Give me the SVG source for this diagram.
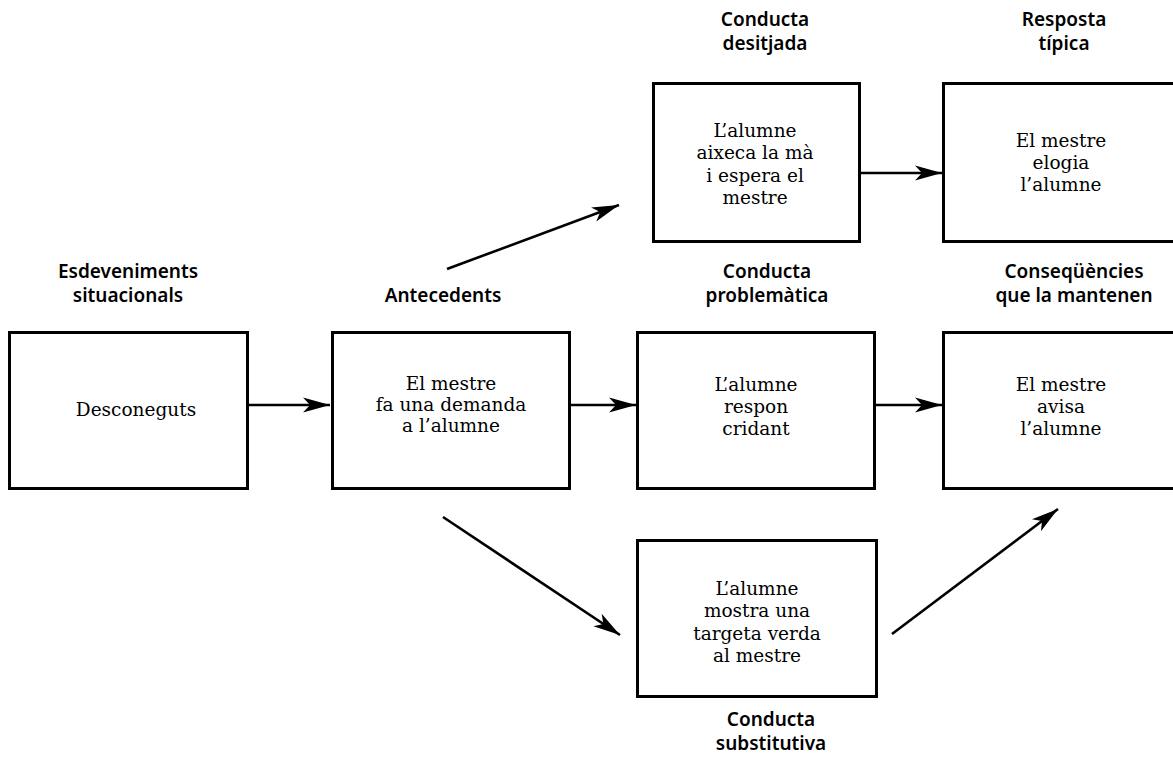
<svg xmlns="http://www.w3.org/2000/svg" width="1173" height="759" viewBox="0 0 1173 759">
<style>
.box{fill:#fff;stroke:#000;stroke-width:3}
.lbl{font-family:"Noto Sans","Liberation Sans",sans-serif;font-weight:600;font-size:19px;text-anchor:middle;fill:#000}
.txt{font-family:"DejaVu Serif","Liberation Serif",serif;font-size:18.5px;text-anchor:middle;fill:#000}
.con{stroke:#000;stroke-width:2.6;fill:none;marker-end:url(#ah)}
</style>
<defs>
<marker id="ah" markerUnits="userSpaceOnUse" markerWidth="30" markerHeight="20" viewBox="-28 -10 30 20" refX="0" refY="0" orient="auto">
<path d="M0,0 L-27,-7.5 L-20,0 L-27,7.5 Z" fill="#000"/>
</marker>
</defs>
<rect width="1173" height="759" fill="#fff"/>

<g id="connectors">
<line class="con" x1="248" y1="405" x2="330" y2="405"/>
<line class="con" x1="570" y1="405" x2="636" y2="405"/>
<line class="con" x1="875" y1="405" x2="942" y2="405"/>
<line class="con" x1="860" y1="173" x2="942" y2="173"/>
<line class="con" x1="447" y1="269" x2="619" y2="205"/>
<line class="con" x1="443" y1="517" x2="620" y2="635"/>
<line class="con" x1="892" y1="634" x2="1058" y2="509"/>
</g>

<g id="label-esdeveniments">
<text class="lbl" x="128" y="278">Esdeveniments</text>
<text class="lbl" x="128" y="302">situacionals</text>
</g>
<g id="label-antecedents">
<text class="lbl" x="443" y="302">Antecedents</text>
</g>
<g id="label-problematica">
<text class="lbl" x="767" y="278">Conducta</text>
<text class="lbl" x="767" y="302">problemàtica</text>
</g>
<g id="label-consequencies">
<text class="lbl" x="1074" y="278">Conseqüències</text>
<text class="lbl" x="1074" y="302">que la mantenen</text>
</g>
<g id="label-desitjada">
<text class="lbl" x="765" y="26">Conducta</text>
<text class="lbl" x="765" y="50">desitjada</text>
</g>
<g id="label-resposta">
<text class="lbl" x="1064" y="26">Resposta</text>
<text class="lbl" x="1064" y="50">típica</text>
</g>
<g id="label-substitutiva">
<text class="lbl" x="771" y="726">Conducta</text>
<text class="lbl" x="771" y="750">substitutiva</text>
</g>

<g id="node-desconeguts">
<rect class="box" x="9.5" y="332.5" width="238" height="156"/>
<text class="txt" x="136" y="416">Desconeguts</text>
</g>
<g id="node-demanda">
<rect class="box" x="332.5" y="332.5" width="237" height="156"/>
<text class="txt" x="451" y="390">El mestre</text>
<text class="txt" x="451" y="411">fa una demanda</text>
<text class="txt" x="451" y="432">a l’alumne</text>
</g>
<g id="node-cridant">
<rect class="box" x="637.5" y="332.5" width="237" height="156"/>
<text class="txt" x="756" y="391">L’alumne</text>
<text class="txt" x="756" y="413">respon</text>
<text class="txt" x="756" y="435">cridant</text>
</g>
<g id="node-avisa">
<rect class="box" x="943.5" y="332.5" width="240" height="156"/>
<text class="txt" x="1061" y="391">El mestre</text>
<text class="txt" x="1061" y="413">avisa</text>
<text class="txt" x="1061" y="435">l’alumne</text>
</g>
<g id="node-aixeca">
<rect class="box" x="653.5" y="83.5" width="206" height="158"/>
<text class="txt" x="755" y="137">L’alumne</text>
<text class="txt" x="755" y="159">aixeca la mà</text>
<text class="txt" x="755" y="182">i espera el</text>
<text class="txt" x="755" y="204">mestre</text>
</g>
<g id="node-elogia">
<rect class="box" x="943.5" y="83.5" width="240" height="158"/>
<text class="txt" x="1061" y="147">El mestre</text>
<text class="txt" x="1061" y="169">elogia</text>
<text class="txt" x="1061" y="191">l’alumne</text>
</g>
<g id="node-targeta">
<rect class="box" x="637.5" y="540.5" width="239" height="156"/>
<text class="txt" x="757" y="595">L’alumne</text>
<text class="txt" x="757" y="617">mostra una</text>
<text class="txt" x="757" y="640">targeta verda</text>
<text class="txt" x="757" y="662">al mestre</text>
</g>
</svg>
